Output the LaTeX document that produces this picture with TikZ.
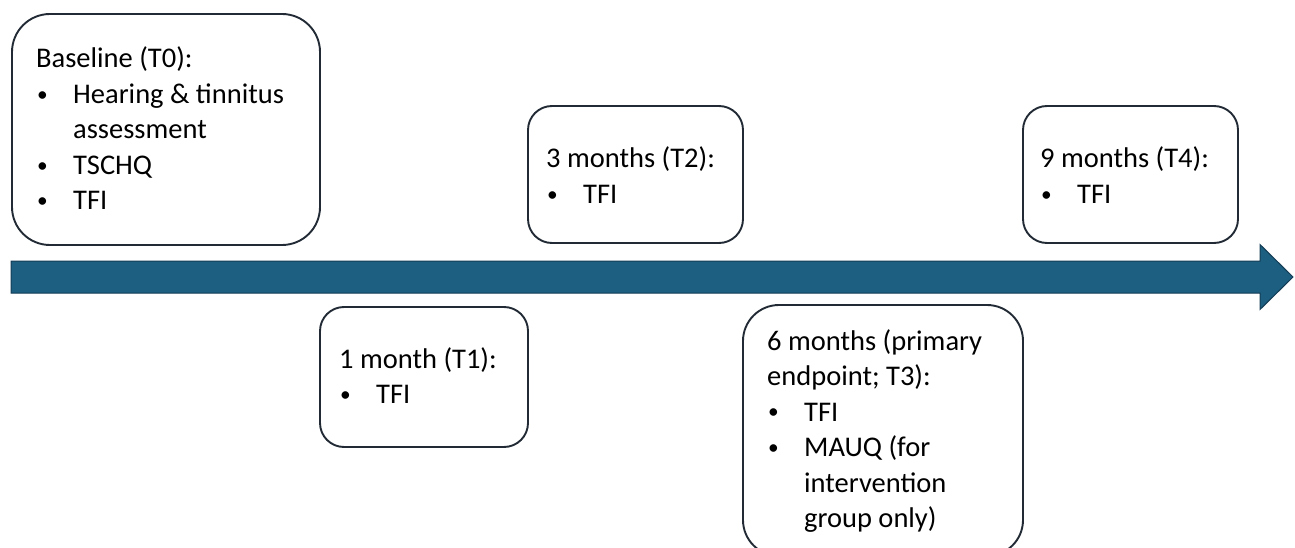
\documentclass[tikz,border=0pt]{standalone}
\usepackage{graphicx}
\usepackage{fontspec}
\setmainfont{Carlito}
\definecolor{timeline}{HTML}{1D5F80}
\definecolor{timelineedge}{HTML}{143C55}
\definecolor{boxedge}{HTML}{222B35}
% bullet with hanging indent, and a continuation line aligned with it
\newcommand\tldot{\raisebox{2.2pt}{\scalebox{0.75}{\textbullet}}}
\newcommand\tlitem[1]{\makebox[37pt][l]{\hspace*{1pt}\tldot}#1}
\newcommand\tlcont[1]{\hspace*{37pt}#1}
\begin{document}
\begin{tikzpicture}[x=1pt,y=-1pt,
  stagebox/.style={draw=boxedge,fill=white,line width=1.9pt,rounded corners=#1,
    inner sep=0pt,outer sep=0pt,anchor=north west},
  stagebox/.default=24pt,
  stagetext/.style={anchor=base west,inner sep=0pt,
    font=\fontsize{28.5}{35.5}\selectfont}]
  % page
  \fill[white] (0,0) rectangle (1295,548);
  \useasboundingbox (0,0) rectangle (1295,548);

  % time axis
  \draw[fill=timeline,draw=timelineedge,line width=1pt,line join=miter]
    (11,261) -- (1260,261) -- (1260,244.5) -- (1293,277)
    -- (1260,309.5) -- (1260,293) -- (11,293) -- cycle;

  % stage boxes
  \node[stagebox=38pt,minimum width=308pt,minimum height=231pt] (t0box) at (12,14) {};
  \node[stagebox,minimum width=208pt,minimum height=140pt] (t1box) at (320,307) {};
  \node[stagebox,minimum width=215pt,minimum height=137pt] (t2box) at (528,106) {};
  \node[stagebox=36pt,minimum width=280pt,minimum height=251pt] (t3box) at (743,305) {};
  \node[stagebox,minimum width=215pt,minimum height=137pt] (t4box) at (1023,106) {};

  % stage contents
  \node[stagetext] (t0text) at (36,68) {\begin{tabular}[t]{@{}l@{}}
    Baseline (T0):\\
    \tlitem{Hearing \& tinnitus}\\
    \tlcont{assessment}\\
    \tlitem{TSCHQ}\\
    \tlitem{TFI}\end{tabular}};
  \node[stagetext] (t1text) at (339,368) {\begin{tabular}[t]{@{}l@{}}
    1 month (T1):\\
    \tlitem{TFI}\end{tabular}};
  \node[stagetext] (t2text) at (546,168) {\begin{tabular}[t]{@{}l@{}}
    3 months (T2):\\
    \tlitem{TFI}\end{tabular}};
  \node[stagetext] (t3text) at (767,350) {\begin{tabular}[t]{@{}l@{}}
    6 months (primary\\
    endpoint; T3):\\
    \tlitem{TFI}\\
    \tlitem{MAUQ (for}\\
    \tlcont{intervention}\\
    \tlcont{group only)}\end{tabular}};
  \node[stagetext] (t4text) at (1040,168) {\begin{tabular}[t]{@{}l@{}}
    9 months (T4):\\
    \tlitem{TFI}\end{tabular}};
\end{tikzpicture}
\end{document}
